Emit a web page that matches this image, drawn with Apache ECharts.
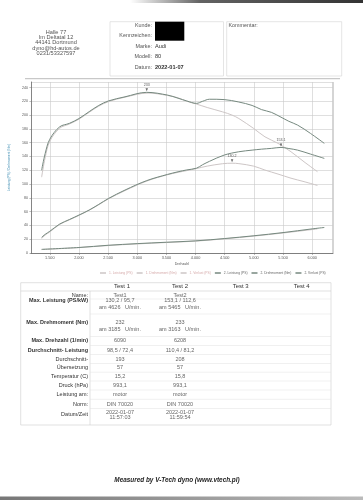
<!DOCTYPE html>
<html><head><meta charset="utf-8">
<script src="https://cdn.jsdelivr.net/npm/echarts@6/dist/echarts.min.js"></script>
<style>html,body{margin:0;padding:0;background:#fff}#c{width:363px;height:500px}</style>
</head><body><div id="c"></div>
<script>
// ---------- DATA ----------
const xTickValues = [1500, 2000, 2500, 3000, 3500, 4000, 4500, 5000, 5500, 6000];

const rpm1    = [1360, 1420, 1500, 1670, 1835, 2000, 2175, 2340, 2505, 2790, 3185, 3520, 3700, 3850, 4016, 4200, 4463, 4626, 4743, 4995, 5190, 5414, 5637, 5860, 6090];
const torque1 = [110, 138, 162, 181, 187, 194, 204, 213, 219.5, 226, 232, 228.5, 225, 220, 216, 211, 204.7, 200, 195, 180.7, 168.5, 159, 146.8, 132.3, 118];
const power1  = [21, 26, 30.5, 41.5, 48, 54.5, 62, 70, 78.5, 90.5, 105, 113.5, 117, 119.5, 122.5, 126, 129.5, 130.2, 129.6, 126, 120.3, 114.5, 108.5, 103.5, 98];

const rpm2    = [1360, 1420, 1500, 1670, 1835, 2000, 2175, 2340, 2505, 2790, 3163, 3520, 3700, 3850, 4016, 4120, 4240, 4490, 4740, 4970, 5130, 5300, 5465, 5600, 5750, 5970, 6208];
const torque2 = [120, 144, 165, 183, 188, 195, 205, 214, 220.5, 226.5, 233, 229, 224.5, 220.5, 217, 220, 223, 222.5, 219, 214, 208, 204, 197, 191, 185.5, 173.5, 159];
const power2  = [22.7, 27, 31.5, 42, 48.5, 55, 62.3, 70.5, 79, 91.3, 105, 114, 117.8, 120.5, 123, 128, 133, 142, 146.8, 149.2, 150.6, 151.7, 153.1, 151.5, 149.2, 143.5, 137.2];

const lossRpm1 = [1360, 2000, 2500, 3000, 3500, 4000, 4500, 5000, 5500, 6000, 6090];
const loss1    = [5, 7.8, 10.8, 13.2, 15.2, 17.2, 20.6, 24.5, 29, 34, 35];
const lossRpm2 = [1360, 2000, 2500, 3000, 3500, 4000, 4500, 5000, 5500, 6000, 6208];
const loss2    = [5.3, 8, 11.2, 13.6, 15.6, 17.6, 21, 25, 29.6, 35, 37];

const seriesNames = ['1. Leistung (PS)', '1. Drehmoment (Nm)', '1. Verlust (PS)', '2. Leistung (PS)', '2. Drehmoment (Nm)', '2. Verlust (PS)'];

const addressLines = ['Halle 77', 'Im Deltatal 12', '44141 Dortmund', 'dyno@hd-autos.de', '0231/53327597'];
const infoLabels = ['Kunde:', 'Kennzeichen:', 'Marke:', 'Modell:', 'Datum:'];
const infoValues = ['', '', 'Audi', '80', '2022-01-07'];

const tableHeaders = ['Test 1', 'Test 2', 'Test 3', 'Test 4'];
const rowLabels = ['Name:', 'Max. Leistung (PS/kW)', 'Max. Drehmoment (Nm)', 'Max. Drehzahl (1/min)', 'Durchschnitt- Leistung', 'Durchschnitt-', 'Übersetzung', 'Temperatur (C)', 'Druck (hPa)', 'Leistung am:', 'Norm:', 'Datum/Zeit'];
const test1Values = ['Test1', '130,2 / 95,7\nam 4626   U/min.', '232\nam 3185   U/min.', '6090', '98,5 / 72,4', '193', '57', '15,2', '993,1', 'motor', 'DIN 70020', '2022-01-07\n11:57:03'];
const test2Values = ['Test2', '153,1 / 112,6\nam 5465   U/min.', '233\nam 3163   U/min.', '6208', '110,4 / 81,2', '208', '57', '15,8', '993,1', 'motor', 'DIN 70020', '2022-01-07\n11:59:54'];
const footerText = 'Measured by V-Tech dyno (www.vtech.pl)';

// ---------- LAYOUT / STYLE ----------
const C1 = '#cdc6c6', C2 = '#76897f';
const FONT = 'Liberation Sans, Arial, sans-serif';
const rowY = [295, 300.7, 322.7, 340.7, 350, 359, 367.7, 376.7, 385.3, 394.5, 404, 413.5];
const rowBold = [false, true, true, true, true, false, false, false, false, false, false, false];
const sepY = [299, 314, 336.5, 345.5, 354.5, 363.5, 372.2, 381, 390, 399.3, 408.5];

function pairs(xs, ys) { return xs.map((x, i) => [x, ys[i]]); }
function txt(x, y, text, font, fill, align) {
  return { type: 'text', x: x, y: y, silent: true,
    style: { text: text, font: font, fill: fill, align: align || 'left', textAlign: align || 'left', verticalAlign: 'middle', textVerticalAlign: 'middle' } };
}
function line(x1, y1, x2, y2, stroke, w) {
  return { type: 'line', silent: true, shape: { x1: x1, y1: y1, x2: x2, y2: y2 }, style: { stroke: stroke, lineWidth: w || 0.5 } };
}

const g = [];
// scan edges
g.push({ type: 'rect', silent: true, shape: { x: 130, y: 0, width: 233, height: 3 },
  style: { fill: { type: 'linear', x: 0, y: 0, x2: 1, y2: 0, colorStops: [{ offset: 0, color: 'rgba(60,60,60,0)' }, { offset: 0.3, color: 'rgba(60,60,60,0.8)' }, { offset: 1, color: '#333' }] } } });
g.push({ type: 'rect', silent: true, shape: { x: 0, y: 496.5, width: 363, height: 3.5 },
  style: { fill: { type: 'linear', x: 0, y: 0, x2: 1, y2: 0, colorStops: [{ offset: 0, color: '#777' }, { offset: 1, color: '#bbb' }] } } });
// address
addressLines.forEach((t, i) => g.push(txt(56, 32.3 + i * 5.3, t, '5.6px ' + FONT, '#555', 'center')));
// info box
g.push({ type: 'rect', silent: true, shape: { x: 110, y: 21.7, width: 113.5, height: 54.3 }, style: { fill: 'none', stroke: '#d4d4d4', lineWidth: 0.6 } });
g.push({ type: 'rect', silent: true, shape: { x: 226.7, y: 21.7, width: 115, height: 54.3 }, style: { fill: 'none', stroke: '#d4d4d4', lineWidth: 0.6 } });
const infoY = [25.3, 36, 46.7, 56.7, 67.7];
infoLabels.forEach((t, i) => g.push(txt(152, infoY[i], t, '5.4px ' + FONT, '#555', 'right')));
infoValues.forEach((t, i) => { if (t) g.push(txt(155, infoY[i], t, (i === 4 ? 'bold ' : '') + '5.6px ' + FONT, '#333', 'left')); });
g.push({ type: 'rect', silent: true, shape: { x: 155, y: 21.7, width: 29.3, height: 19 }, style: { fill: '#000' } });
g.push(txt(228.5, 25.3, 'Kommentar:', '5.4px ' + FONT, '#555', 'left'));
g.push(line(25, 78.7, 340, 78.7, '#aaa', 0.8));
// table
g.push({ type: 'rect', silent: true, shape: { x: 20.7, y: 282.7, width: 310.3, height: 142.3 }, style: { fill: 'none', stroke: '#cfcfcf', lineWidth: 0.6 } });
g.push(line(20.7, 291, 331, 291, '#cfcfcf', 0.6));
g.push(line(90, 291, 90, 425, '#cfcfcf', 0.6));
sepY.forEach(y => g.push(line(90, y, 331, y, '#e0e0e0', 0.5)));
const headX = [122, 180, 240.7, 301.7];
tableHeaders.forEach((t, i) => g.push(txt(headX[i], 286.5, t, '6px ' + FONT, '#333', 'center')));
rowLabels.forEach((t, i) => g.push(txt(88, rowY[i] + (i === 11 ? 0.5 : 0), t, (rowBold[i] ? 'bold ' : '') + '5.5px ' + FONT, '#333', 'right')));
function cell(vals, cx) {
  vals.forEach((v, i) => {
    const parts = v.split('\n');
    const lh = i === 11 ? 5.6 : 6.6;
    const y0 = i === 11 ? 412.3 : rowY[i];
    parts.forEach((p, k) => g.push(txt(cx, y0 + k * lh, p, '5.5px ' + FONT, '#666', 'center')));
  });
}
cell(test1Values, 120);
cell(test2Values, 180);
g.push(txt(177, 480, footerText, 'italic bold 6.4px ' + FONT, '#222', 'center'));

// ---------- CHART ----------
function mkSeries(name, xs, ys, color, mark) {
  const s = { name: name, type: 'line', smooth: 0.35, showSymbol: false, symbol: 'none',
    data: pairs(xs, ys), lineStyle: { color: color, width: 1 }, itemStyle: { color: color }, z: color === C2 ? 3 : 2 };
  if (mark) {
    s.markPoint = { symbol: 'triangle', symbolSize: [2.5, 3], symbolRotate: 180, symbolOffset: [0, -2.5],
      itemStyle: { color: '#666' },
      label: { show: true, position: 'top', distance: 1.5, fontSize: 3.6, color: '#555', fontFamily: FONT, formatter: p => String(p.value) },
      data: [{ type: 'max', valueDim: 'y' }] };
  }
  return s;
}

const chart = echarts.init(document.getElementById('c'), null, { renderer: 'canvas' });
chart.setOption({
  backgroundColor: '#fff',
  animation: false,
  grid: { left: 24, right: 30, top: 82, bottom: 247, containLabel: false, show: false },
  legend: {
    left: 95, top: 266.5, itemWidth: 6, itemHeight: 1.5, itemGap: 4, icon: 'rect',
    textStyle: { fontSize: 3.3, fontFamily: FONT, padding: [0, 0, 0, -2] },
    data: seriesNames.map((n, i) => ({ name: n, textStyle: { color: i < 3 ? '#d5a9a9' : '#666' } }))
  },
  xAxis: {
    type: 'value', min: 1176, max: 6357,
    name: 'Drehzahl', nameLocation: 'middle', nameGap: 9,
    nameTextStyle: { fontSize: 3.6, color: '#555', fontFamily: FONT },
    axisLine: { show: true, lineStyle: { color: '#666', width: 0.8 } },
    axisTick: { show: true, length: 2, customValues: xTickValues, lineStyle: { color: '#777', width: 0.5 } },
    axisLabel: { customValues: xTickValues, fontSize: 3.8, color: '#555', fontFamily: FONT, margin: 3,
      formatter: v => (v / 1000).toFixed(3) },
    splitLine: { show: true, lineStyle: { color: '#c9c9c9', width: 0.6 } }
  },
  yAxis: {
    type: 'value', min: 0, max: 248, interval: 20,
    name: 'Leistung (PS) / Drehmoment (Nm)', nameLocation: 'middle', nameGap: 10,
    nameTextStyle: { fontSize: 3.1, color: '#3f8db3', fontFamily: FONT },
    axisLine: { show: true, lineStyle: { color: '#666', width: 0.8 } },
    axisTick: { show: true, length: 1.5, lineStyle: { color: '#777', width: 0.5 } },
    axisLabel: { fontSize: 3.6, color: '#555', fontFamily: FONT, margin: 3, showMaxLabel: false },
    splitLine: { show: true, lineStyle: { color: '#c9c9c9', width: 0.6 } }
  },
  graphic: { elements: g },
  series: [
    mkSeries(seriesNames[0], rpm1, power1, C1, true),
    mkSeries(seriesNames[1], rpm1, torque1, C1, false),
    mkSeries(seriesNames[2], lossRpm1, loss1, C1, false),
    mkSeries(seriesNames[3], rpm2, power2, C2, true),
    mkSeries(seriesNames[4], rpm2, torque2, C2, true),
    mkSeries(seriesNames[5], lossRpm2, loss2, C2, false)
  ]
});
// right border of plot
chart.setOption({ graphic: { elements: g.concat([line(333, 82, 333, 253, '#888', 0.7)]) } });
</script></body></html>
